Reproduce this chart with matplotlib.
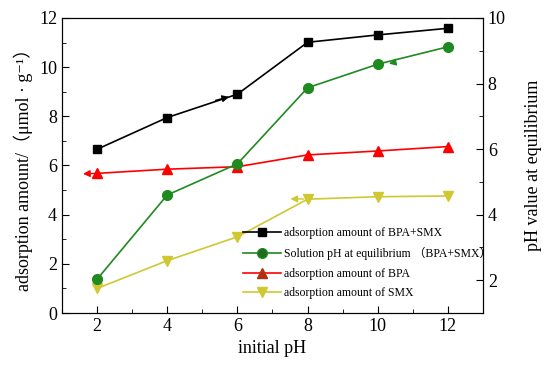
import matplotlib
matplotlib.use("Agg")
import matplotlib.pyplot as plt
from matplotlib.ticker import MultipleLocator

plt.rcParams['font.family'] = ['Liberation Serif', 'DejaVu Serif', 'Noto Sans CJK SC']

# data
init_ph = [2, 4, 6, 8, 10, 12]
ads_mix = [6.66, 7.95, 8.9, 11.01, 11.31, 11.58]
ph_eq = [2.03, 4.6, 5.55, 7.87, 8.59, 9.12]
ads_bpa = [5.68, 5.85, 5.95, 6.43, 6.59, 6.77]
ads_smx = [1.0, 2.13, 3.1, 4.63, 4.73, 4.76]

fig = plt.figure(figsize=(5.5, 3.74), dpi=100)
ax = fig.add_axes([0.1127, 0.163, 0.7655, 0.789])
ax2 = ax.twinx()

yellow = '#cfc832'
green = '#1f8a1f'

l1, = ax.plot(init_ph, ads_mix, '-s', color='black', ms=6, lw=1.2,
              label='adsorption amount of BPA+SMX')
l3, = ax.plot(init_ph, ads_bpa, '-^', color='red', ms=7, lw=1.2,
              label='adsorption amount of BPA')
l4, = ax.plot(init_ph, ads_smx, '-v', color=yellow, ms=7, lw=1.2,
              label='adsorption amount of SMX')
l2, = ax2.plot(init_ph, ph_eq, '-o', color=green, ms=7, lw=1.2,
               label='Solution pH at equilibrium （BPA+SMX）')

# arrows pointing at the axis each series belongs to
arr = dict(arrowstyle='-|>', lw=1.0, mutation_scale=10)
ax.annotate('', xy=(5.84, 8.82), xytext=(5.3, 8.62), arrowprops=dict(arr, color='black'))
ax.annotate('', xy=(1.52, 5.66), xytext=(2.0, 5.68), arrowprops=dict(arr, color='red'))
ax.annotate('', xy=(7.43, 4.64), xytext=(7.97, 4.64), arrowprops=dict(arr, color=yellow))
ax2.annotate('', xy=(10.24, 8.59), xytext=(10.55, 8.66), arrowprops=dict(arr, color=green))

ax.set_xlim(1, 13)
ax.set_ylim(0, 12)
ax2.set_ylim(1, 10)
ax.xaxis.set_major_locator(MultipleLocator(2))
ax.xaxis.set_minor_locator(MultipleLocator(1))
ax.yaxis.set_major_locator(MultipleLocator(2))
ax.yaxis.set_minor_locator(MultipleLocator(1))
ax2.yaxis.set_major_locator(MultipleLocator(2))
ax2.yaxis.set_minor_locator(MultipleLocator(1))

for a in (ax, ax2):
    a.tick_params(which='both', direction='in', labelsize=13)
    a.tick_params(which='major', length=5)
    a.tick_params(which='minor', length=3)
ax.tick_params(top=False, which='both')

ax.set_xlabel('initial pH', fontsize=13)
ax.set_ylabel('adsorption amount/（μmol · g⁻¹）', fontsize=13)
ax2.set_ylabel('pH value at equilibrium', fontsize=13, labelpad=14)

leg = ax.legend(handles=[l1, l2, l3, l4], loc='lower left',
                bbox_to_anchor=(0.405, 0.01), frameon=False, fontsize=8.5,
                handlelength=3.2, handletextpad=0.3, labelspacing=0.65)
leg.legend_handles[1].set_markerfacecolor('#1f6a1f')
leg.legend_handles[2].set_markerfacecolor('#b03010')
leg.legend_handles[2].set_markeredgecolor('#b03010')

fig.savefig('out.png', dpi=100)
